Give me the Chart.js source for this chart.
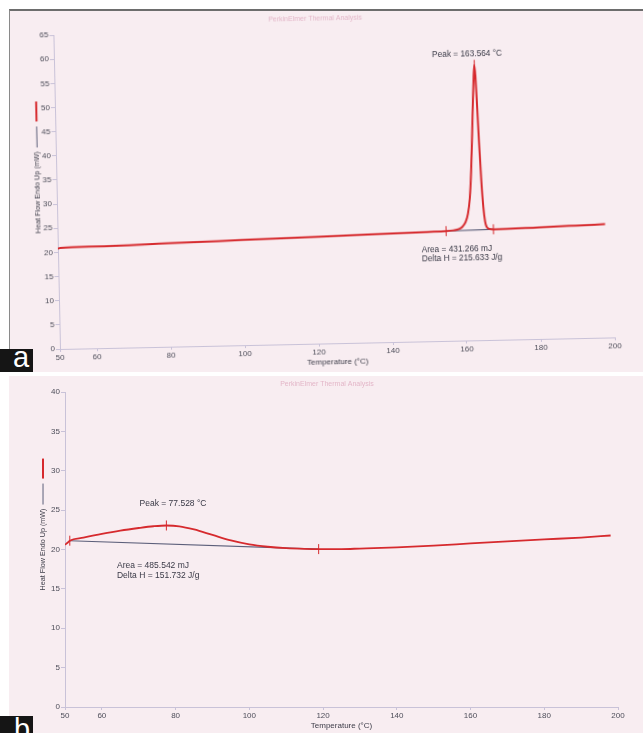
<!DOCTYPE html>
<html><head><meta charset="utf-8">
<script src="https://cdn.jsdelivr.net/npm/chart.js@4.4.1/dist/chart.umd.min.js"></script>
<style>
html,body{margin:0;padding:0;background:#fff;}
body{width:643px;height:733px;position:relative;overflow:hidden;font-family:"Liberation Sans",Arial,sans-serif;}
.paper{position:absolute;background:#f8edf1;box-sizing:border-box;}
#paperA{left:9px;top:9px;width:634px;height:363px;border-top:2px solid #6d6d6d;border-left:1px solid #8a8a8a;}
#paperB{left:9px;top:376px;width:634px;height:357px;}
canvas{position:absolute;}
#cA{left:0;top:0;transform-origin:60px 349px;transform:rotate(-1.2deg);}
#cB{left:0;top:376px;}
.tag{position:absolute;left:0;width:33px;background:#151515;color:#fff;font-size:29px;overflow:hidden;z-index:5;box-sizing:border-box;}
#tagA{top:349px;height:23px;line-height:16px;padding-left:13px;}
#tagB{top:716px;height:17px;line-height:27.6px;padding-left:14px;}
</style>
</head>
<body>
<div class="paper" id="paperA"></div>
<div class="paper" id="paperB"></div>
<canvas id="cA" width="643" height="374" style="width:643px;height:374px"></canvas>
<canvas id="cB" width="643" height="357" style="width:643px;height:357px"></canvas>
<div class="tag" id="tagA">a</div>
<div class="tag" id="tagB">b</div>
<script>
// ---------- data ----------
const xTickValues = [50, 60, 80, 100, 120, 140, 160, 180, 200];
const yTickValuesA = [0, 5, 10, 15, 20, 25, 30, 35, 40, 45, 50, 55, 60, 65];
const yTickValuesB = [0, 5, 10, 15, 20, 25, 30, 35, 40];

// panel a: heat flow (mW) vs temperature (°C)
const tempA = [50, 50.6, 60, 80, 100, 120, 140, 150, 155, 157, 158.5, 159.5, 160.3, 161.0, 161.6, 162.1, 162.6, 163.0, 163.3, 163.56, 163.8, 164.1, 164.4, 164.8, 165.2, 165.6, 166.0, 166.6, 167.8, 180, 190, 198];
const heatA = [20.75, 20.92, 21.08, 21.42, 21.77, 22.12, 22.46, 22.63, 22.72, 22.85, 23.1, 23.6, 24.5, 26.2, 29.5, 35, 43, 50, 54.5, 57.0, 54.5, 48, 41, 33, 27.5, 24.5, 23.4, 23.0, 22.9, 23.1, 23.3, 23.47];
const baseTempA = [155.0, 167.8];
const baseHeatA = [22.72, 22.9];

// panel b
const tempB = [50, 50.7, 51.3, 55, 60, 65, 70, 74, 77.5, 81, 85, 90, 95, 100, 105, 110, 115, 118.8, 125, 130, 140, 150, 160, 170, 180, 190, 198];
const heatB = [20.6, 20.85, 21.12, 21.5, 21.98, 22.4, 22.73, 22.95, 23.05, 22.95, 22.55, 21.85, 21.15, 20.65, 20.35, 20.17, 20.08, 20.05, 20.05, 20.12, 20.28, 20.5, 20.77, 21.03, 21.28, 21.52, 21.78];
const baseTempB = [51.3, 118.8];
const baseHeatB = [21.12, 20.05];

const titleText = 'PerkinElmer Thermal Analysis';
const xTitle = 'Temperature (°C)';
const yTitle = 'Heat Flow Endo Up (mW)';
const peakTextA = 'Peak = 163.564 °C';
const areaTextA = ['Area = 431.266 mJ', 'Delta H = 215.633 J/g'];
const peakTextB = 'Peak = 77.528 °C';
const areaTextB = ['Area = 485.542 mJ', 'Delta H = 151.732 J/g'];

// ---------- styling ----------
const FONT = '"Liberation Sans", Arial, sans-serif';
Chart.defaults.font.family = FONT;
const RED = '#d62a2e';
const BASE = '#5c5f7a';
const AXIS = '#c9c2d8';
const TICKTXT = '#4e4e5a';
const NOTE = '#393946';

const pts = (xs, ys) => xs.map((v, i) => ({x: v, y: ys[i]}));
const peakOf = (xs, ys) => { let k = 0; ys.forEach((v, i) => { if (v > ys[k]) k = i; }); return [xs[k], ys[k]]; };

const decor = {
  id: 'decor',
  afterDatasetsDraw(chart, args, o) {
    const {ctx, scales: {x, y}} = chart;
    ctx.save();
    ctx.strokeStyle = RED; ctx.lineWidth = 1;
    o.marks.forEach(([t, v]) => {
      const px = x.getPixelForValue(t), py = y.getPixelForValue(v);
      ctx.beginPath(); ctx.moveTo(px, py - o.markLen); ctx.lineTo(px, py + o.markLen); ctx.stroke();
    });
    ctx.fillStyle = NOTE;
    ctx.font = o.noteSize + 'px ' + FONT;
    ctx.textBaseline = 'middle';
    o.notes.forEach(n => {
      ctx.textAlign = n.align;
      n.lines.forEach((line, i) => ctx.fillText(line, x.getPixelForValue(n.x), y.getPixelForValue(n.y) + i * o.lineStep));
    });
    ctx.restore();
  },
  afterDraw(chart, args, o) {
    const {ctx} = chart;
    const s = chart.scales.y, t = s.options.title;
    const f = Chart.helpers.toFont(t.font);
    const pad = Chart.helpers.toPadding(t.padding);
    const cx = s.left + pad.top + f.lineHeight / 2;
    const cy = (s.top + s.bottom) / 2;
    ctx.save();
    ctx.font = f.string;
    const w = ctx.measureText(t.text).width;
    let yy = cy - w / 2 - 4;
    ctx.strokeStyle = BASE; ctx.lineWidth = 1;
    ctx.beginPath(); ctx.moveTo(cx, yy); ctx.lineTo(cx, yy - 21); ctx.stroke();
    yy -= 26;
    ctx.strokeStyle = RED; ctx.lineWidth = 2;
    ctx.beginPath(); ctx.moveTo(cx, yy); ctx.lineTo(cx, yy - 20); ctx.stroke();
    ctx.restore();
  }
};

function makeChart(id, cfg) {
  return new Chart(document.getElementById(id), {
    type: 'line',
    data: {
      datasets: [
        {data: pts(cfg.temps, cfg.heat), borderColor: RED, borderWidth: cfg.lw, pointRadius: 0, cubicInterpolationMode: 'monotone', fill: false},
        {data: pts(cfg.baseT, cfg.baseH), borderColor: BASE, borderWidth: 1.1, pointRadius: 0, fill: false}
      ]
    },
    options: {
      responsive: false,
      animation: false,
      devicePixelRatio: 1,
      layout: {padding: cfg.pad},
      plugins: {
        legend: {display: false},
        tooltip: {enabled: false},
        title: {display: true, text: titleText, color: '#e3b6c8', font: {size: 7, weight: 'normal'}, padding: cfg.titlePad},
        decor: {marks: cfg.marks, notes: cfg.notes, noteSize: cfg.noteSize, lineStep: cfg.lineStep, markLen: 5}
      },
      scales: {
        x: {
          type: 'linear', min: 50, max: 200,
          afterBuildTicks: s => { s.ticks = xTickValues.map(v => ({value: v})); },
          afterFit: s => { s.height = 24; },
          ticks: {color: TICKTXT, font: {size: 8}, padding: 1, maxRotation: 0, autoSkip: false},
          grid: {drawOnChartArea: false, drawTicks: true, tickLength: 3, color: AXIS},
          border: {display: true, color: AXIS},
          title: {display: true, text: xTitle, color: '#3c3c48', font: {size: 8}, padding: 0}
        },
        y: {
          type: 'linear', min: 0, max: cfg.yMax,
          afterBuildTicks: s => { s.ticks = cfg.yTicks.map(v => ({value: v})); },
          afterFit: s => { s.width = cfg.yWidth; },
          ticks: {color: TICKTXT, font: {size: 8}, padding: 1, autoSkip: false},
          grid: {drawOnChartArea: false, drawTicks: true, tickLength: 4, color: AXIS},
          border: {display: true, color: AXIS},
          title: {display: true, text: yTitle, color: '#3c3c48', font: {size: 7.2}, padding: {top: cfg.yTitlePad, bottom: 0}}
        }
      }
    },
    plugins: [decor]
  });
}

makeChart('cA', {
  temps: tempA, heat: heatA, baseT: baseTempA, baseH: baseHeatA, lw: 2,
  yMax: 65, yTicks: yTickValuesA, yWidth: 31, yTitlePad: 8,
  pad: {left: 29, right: 28, top: 0, bottom: 1},
  titlePad: {top: 20.2, bottom: 6.4},
  marks: [[baseTempA[0], baseHeatA[0]], peakOf(tempA, heatA), [baseTempA[1], baseHeatA[1]]],
  notes: [
    {lines: [peakTextA], x: 161.65, y: 59.3, align: 'center'},
    {lines: areaTextA, x: 148.3, y: 18.9, align: 'left'}
  ],
  noteSize: 8.3, lineStep: 9.4
});

makeChart('cB', {
  temps: tempB, heat: heatB, baseT: baseTempB, baseH: baseHeatB, lw: 1.8,
  yMax: 40, yTicks: yTickValuesB, yWidth: 29, yTitlePad: 2.7,
  pad: {left: 36, right: 25, top: 0, bottom: 2},
  titlePad: {top: 3.8, bottom: 3.8},
  marks: [[baseTempB[0], baseHeatB[0]], peakOf(tempB, heatB), [baseTempB[1], baseHeatB[1]]],
  notes: [
    {lines: [peakTextB], x: 79.3, y: 25.85, align: 'center'},
    {lines: areaTextB, x: 64.1, y: 17.9, align: 'left'}
  ],
  noteSize: 8.5, lineStep: 10
});
</script>
</body></html>
